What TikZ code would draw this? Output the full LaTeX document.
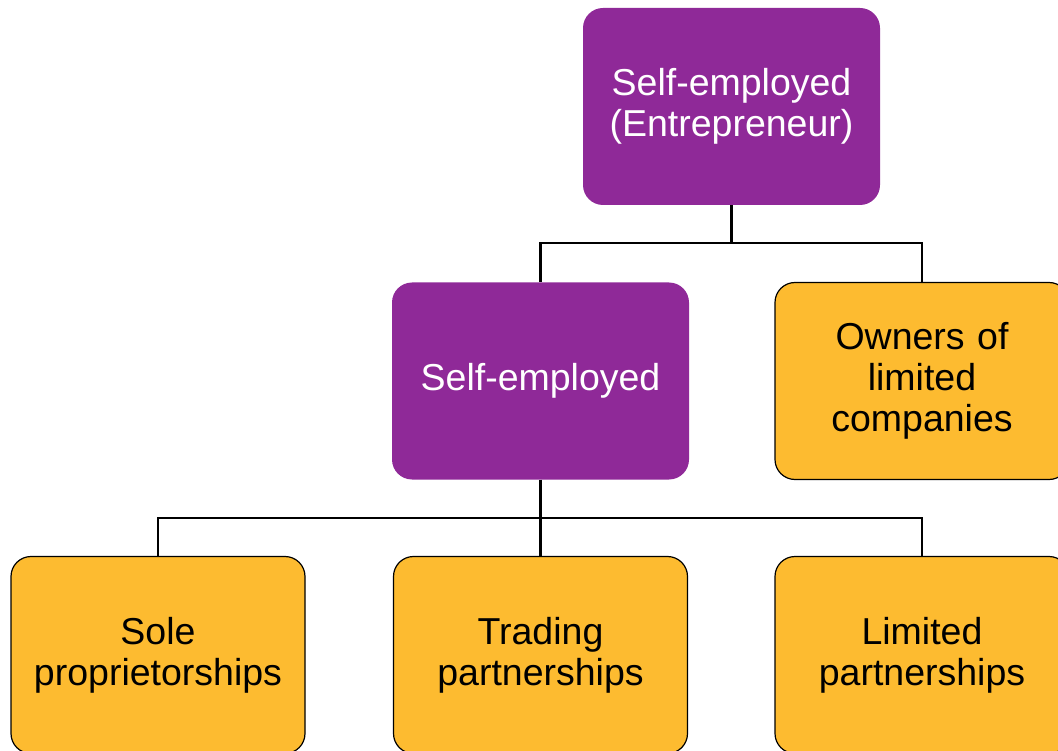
\documentclass[tikz,border=0pt]{standalone}
\usepackage{fontspec}
\setmainfont{Liberation Sans}
\definecolor{purp}{RGB}{143,41,152}
\definecolor{yell}{RGB}{253,187,48}
\tikzset{
  box/.style={rounded corners=20pt, align=center, text width=270pt, minimum height=197pt,
    font=\fontsize{37.5}{41}\selectfont, inner sep=0pt},
  purpbox/.style={box, fill=purp, text=white, minimum width=297pt},
  yellbox/.style={box, fill=yell, draw=black, line width=1.2pt, text=black, minimum width=294pt},
  conn/.style={draw=black, line width=2.5pt}
}
\begin{document}
\begin{tikzpicture}[x=1pt,y=-1pt]
\useasboundingbox (0,0) rectangle (1058,751);
\clip (0,0) rectangle (1058,751);
\node[purpbox] (top) at (731.5,106.5) {Self-employed\\(Entrepreneur)};
\node[purpbox] (self) at (540.5,381) {Self-employed};
\node[yellbox] (owners) at (922,381) {Owners of\\limited\\companies};
\node[yellbox] (sole) at (158,655) {Sole\\proprietorships};
\node[yellbox] (trading) at (540.5,655) {Trading\\partnerships};
\node[yellbox] (limited) at (922,655) {Limited\\partnerships};
\coordinate (j1) at (731.5,243);
\coordinate (j2) at (540.5,518);
\draw[conn] (top.south) -- (j1);
\draw[conn] (j1) -| (self.north);
\draw[conn] (j1) -| (owners.north);
\draw[conn] (self.south) -- (j2);
\draw[conn] (j2) -| (sole.north);
\draw[conn] (j2) -- (trading.north);
\draw[conn] (j2) -| (limited.north);
\end{tikzpicture}
\end{document}
